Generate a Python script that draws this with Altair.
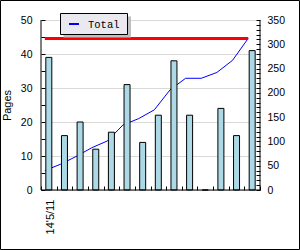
import altair as alt
import pandas as pd

days = ["14'5/11", "14'5/12", "14'5/13", "14'5/14", "14'5/15", "14'5/16", "14'5/17",
        "14'5/18", "14'5/19", "14'5/20", "14'5/21", "14'5/22", "14'5/23", "14'5/24"]
pages = [39, 16, 20, 12, 17, 31, 14, 22, 38, 22, 0, 24, 16, 41]
total = [40, 53, 69, 87, 101, 134, 147, 165, 206, 230, 230, 242, 267, 312]
total_max = 312
left_ticks = [0, 5, 10, 15, 20, 25, 30, 35, 40, 45, 50]
right_ticks = list(range(0, 351, 10))

df = pd.DataFrame({"day": days, "pages": pages, "total": total})
df_max = pd.DataFrame({"day": [days[0], days[-1]], "total": [total_max, total_max]})

FONT = "Liberation Sans"

x_enc = alt.X(
    "day:N", sort=None, title=None,
    scale=alt.Scale(paddingInner=0, paddingOuter=0),
    axis=alt.Axis(
        labelExpr="datum.value == \"14'5/11\" ? datum.label : ''",
        labelAngle=270, labelFont=FONT, labelFontSize=11, labelColor="black",
        labelPadding=9, labelOffset=2, labelOverlap=False, tickBand="extent",
        tickSize=4, offset=-4, tickColor="black", domain=False, grid=False,
    ),
)

bars = alt.Chart(df).mark_bar(size=6, fill="#add8e6", stroke="black", strokeWidth=1).encode(
    x=x_enc,
    y=alt.Y("pages:Q", scale=alt.Scale(domain=[0, 50]),
            axis=alt.Axis(
                title="Pages", titleFont=FONT, titleFontSize=11, titleFontWeight="normal",
                titleColor="black", titlePadding=8,
                values=left_ticks, labelExpr="datum.value % 10 === 0 ? datum.label : ''",
                labelFont=FONT, labelFontSize=10.5, labelColor="black", labelPadding=9,
                labelOverlap=False,
                tickSize=4, offset=-4, tickColor="black", domain=False,
                grid=True, gridColor="#d9d9d9",
                gridOpacity={"condition": {"test": "datum.value % 10 === 0", "value": 1}, "value": 0},
            )),
)

right_axis = alt.Axis(
    orient="right", title=None, values=right_ticks,
    labelExpr="datum.value % 50 === 0 ? datum.label : ''",
    labelFont=FONT, labelFontSize=10.5, labelColor="black", labelPadding=7,
    labelOverlap=False, labelBound=False, labelFlush=False,
    tickSize=4, offset=-4, tickColor="black", domain=False, grid=False,
)

blue = alt.Chart(df).mark_line(color="#0000ff", strokeWidth=1, xOffset=-4).encode(
    x=alt.X("day:N", sort=None),
    y=alt.Y("total:Q", scale=alt.Scale(domain=[0, 350]), axis=right_axis),
)
red = alt.Chart(df_max).mark_line(color="#ff0000", strokeWidth=3, xOffset=-4).encode(
    x=alt.X("day:N", sort=None),
    y=alt.Y("total:Q", scale=alt.Scale(domain=[0, 350]), axis=right_axis),
)
lines = alt.layer(blue, red)

one = alt.Data(values=[{}])
frame_l = alt.Chart(one).mark_rule(color="black").encode(
    x=alt.value(0), y=alt.value(0), y2=alt.value(170))
frame_r = alt.Chart(one).mark_rule(color="black").encode(
    x=alt.value(219), y=alt.value(0), y2=alt.value(170))
frame_b = alt.Chart(one).mark_rule(color="black").encode(
    x=alt.value(0), x2=alt.value(219), y=alt.value(170))
border = alt.Chart(one).mark_rect(fill=None, stroke="black", strokeWidth=1).encode(
    x=alt.value(-40.5), x2=alt.value(258.5), y=alt.value(-19.5), y2=alt.value(229.5))
shadow = alt.Chart(one).mark_rect(fill="#c0c0c0").encode(
    x=alt.value(22.5), x2=alt.value(90), y=alt.value(-3.5), y2=alt.value(17.5))
box = alt.Chart(one).mark_rect(fill="#ebe9f0", stroke="black", strokeWidth=1).encode(
    x=alt.value(19.5), x2=alt.value(86.5), y=alt.value(-6.5), y2=alt.value(14.5))
leg_line = alt.Chart(one).mark_rule(color="#0000ff", strokeWidth=2).encode(
    x=alt.value(28), x2=alt.value(38), y=alt.value(4))
leg_text = alt.Chart(one).mark_text(text="Total", font="Liberation Mono", fontSize=10.5,
                                    align="left", baseline="middle", color="black").encode(
    x=alt.value(47), y=alt.value(4.5))

chart = alt.layer(
    lines, bars, frame_l, frame_r, frame_b, shadow, box, leg_line, leg_text, border
).resolve_scale(y="independent").properties(
    width=219, height=170,
    padding={"left": 41, "top": 20, "right": 40, "bottom": 60},
    autosize="none",
).configure(background="#ffffff").configure_view(stroke=None).configure_axis(
    labelOverlap=False
)

chart.save("out.html", embed_options={"renderer": "svg", "actions": False})
